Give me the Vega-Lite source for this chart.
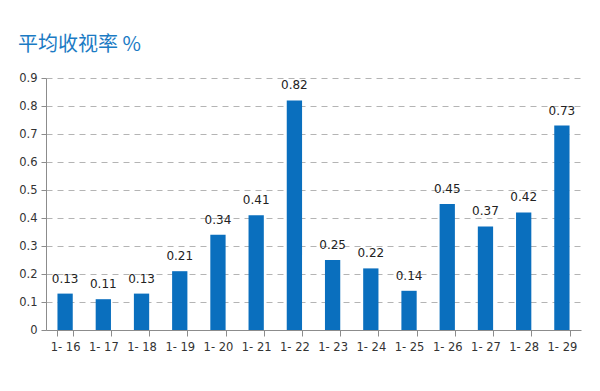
{
  "$schema": "https://vega.github.io/schema/vega-lite/v6.json",
  "autosize": "none",
  "width": 535,
  "height": 252,
  "padding": {"left": 46, "top": 78, "right": 19, "bottom": 61},
  "background": "white",
  "title": {
    "text": "平均收视率 %",
    "anchor": "start",
    "frame": "group",
    "dx": -28,
    "offset": 17,
    "fontSize": 20,
    "font": "Noto Sans CJK SC",
    "fontWeight": "normal",
    "color": "#1b7bc4"
  },
  "data": {
    "values": [
      {"date": "1- 16", "rating": 0.13},
      {"date": "1- 17", "rating": 0.11},
      {"date": "1- 18", "rating": 0.13},
      {"date": "1- 19", "rating": 0.21},
      {"date": "1- 20", "rating": 0.34},
      {"date": "1- 21", "rating": 0.41},
      {"date": "1- 22", "rating": 0.82},
      {"date": "1- 23", "rating": 0.25},
      {"date": "1- 24", "rating": 0.22},
      {"date": "1- 25", "rating": 0.14},
      {"date": "1- 26", "rating": 0.45},
      {"date": "1- 27", "rating": 0.37},
      {"date": "1- 28", "rating": 0.42},
      {"date": "1- 29", "rating": 0.73}
    ]
  },
  "encoding": {
    "x": {
      "field": "date",
      "type": "nominal",
      "sort": null,
      "scale": {"paddingInner": 0.6, "paddingOuter": 0.3},
      "axis": {
        "title": null,
        "labelAngle": 0,
        "tickBand": "extent",
        "domainColor": "#8c8c8c",
        "tickColor": "#8c8c8c",
        "tickSize": 6,
        "labelFont": "DejaVu Sans",
        "labelFontSize": 11.5,
        "labelColor": "#333333",
        "labelPadding": 5
      }
    },
    "y": {
      "field": "rating",
      "type": "quantitative",
      "scale": {"domain": [0, 0.9]},
      "axis": {
        "title": null,
        "values": [0, 0.1, 0.2, 0.3, 0.4, 0.5, 0.6, 0.7, 0.8, 0.9],
        "format": ".1~f",
        "domainColor": "#8c8c8c",
        "tickColor": "#8c8c8c",
        "tickSize": 5,
        "labelFont": "DejaVu Sans",
        "labelFontSize": 11.5,
        "labelColor": "#333333",
        "labelPadding": 4,
        "gridColor": "#b4b4b4",
        "gridDash": [6, 5]
      }
    }
  },
  "layer": [
    {"mark": {"type": "bar", "color": "#0a6fbe"}},
    {
      "mark": {"type": "text", "dy": -8, "baseline": "bottom", "font": "DejaVu Sans", "fontSize": 12, "color": "#222222"},
      "encoding": {"text": {"field": "rating", "type": "quantitative", "format": ".2f"}}
    }
  ],
  "config": {"view": {"stroke": null}}
}
